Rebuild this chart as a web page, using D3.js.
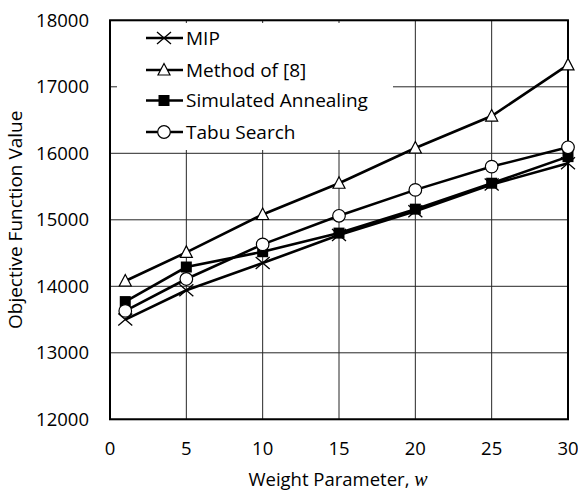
<!DOCTYPE html>
<html>
<head>
<meta charset="utf-8">
<script src="https://cdn.jsdelivr.net/npm/d3@7"></script>
<style>
  body { margin: 0; background: #fff; }
  svg { display: block; font-family: "Open Sans", sans-serif; }
</style>
</head>
<body>
<svg id="chart" width="578" height="491"></svg>
<script>
// Data
const weights = [1, 5, 10, 15, 20, 25, 30];
const mip = [13500, 13940, 14350, 14770, 15130, 15530, 15850];
const method8 = [14080, 14510, 15080, 15550, 16080, 16560, 17330];
const annealing = [13770, 14290, 14520, 14800, 15160, 15550, 15950];
const tabu = [13630, 14110, 14630, 15060, 15450, 15800, 16090];

const xTicks = [0, 5, 10, 15, 20, 25, 30];
const yTicks = [12000, 13000, 14000, 15000, 16000, 17000, 18000];

const seriesNames = ["MIP", "Method of [8]", "Simulated Annealing", "Tabu Search"];
const seriesValues = [mip, method8, annealing, tabu];
const seriesMarkers = ["x", "triangle", "square", "circle"];

const svg = d3.select("#chart");

const x = d3.scaleLinear().domain([0, 30]).range([110, 568]);
const y = d3.scaleLinear().domain([12000, 18000]).range([419.3, 20.3]);

// Marker shapes
function drawMarker(g, type, cx, cy) {
    if (type === "x") {
        g.append("path")
            .attr("d", `M${cx - 7},${cy - 6}L${cx + 7},${cy + 6}M${cx - 7},${cy + 6}L${cx + 7},${cy - 6}`)
            .attr("stroke", "#000").attr("stroke-width", 1.3).attr("fill", "none");
    } else if (type === "triangle") {
        g.append("path")
            .attr("d", `M${cx},${cy - 6.5}L${cx + 6},${cy + 5}L${cx - 6},${cy + 5}Z`)
            .attr("stroke", "#000").attr("stroke-width", 1.2).attr("fill", "#fff");
    } else if (type === "square") {
        g.append("rect")
            .attr("x", cx - 5.5).attr("y", cy - 5.5).attr("width", 11).attr("height", 11)
            .attr("fill", "#000");
    } else {
        g.append("circle")
            .attr("cx", cx).attr("cy", cy).attr("r", 6.3)
            .attr("stroke", "#000").attr("stroke-width", 1.2).attr("fill", "#fff");
    }
}

// Gridlines
const grid = svg.append("g");
grid.selectAll(".hg").data(yTicks).join("line")
    .attr("x1", x(0)).attr("x2", x(30))
    .attr("y1", d => y(d)).attr("y2", d => y(d))
    .attr("stroke", "#262626").attr("stroke-width", 1);
grid.selectAll(".vg").data(xTicks).join("line")
    .attr("x1", d => x(d)).attr("x2", d => x(d))
    .attr("y1", y(12000)).attr("y2", y(18000))
    .attr("stroke", "#262626").attr("stroke-width", 1);

// Legend background covers the grid in the upper-left corner
svg.append("rect")
    .attr("x", 117).attr("y", 23).attr("width", 276).attr("height", 127)
    .attr("fill", "#fff");

// Frame
svg.append("rect")
    .attr("x", x(0)).attr("y", y(18000))
    .attr("width", x(30) - x(0)).attr("height", y(12000) - y(18000))
    .attr("fill", "none").attr("stroke", "#000").attr("stroke-width", 2);

// Axis labels
svg.append("g").selectAll("text").data(yTicks).join("text")
    .attr("x", 89).attr("y", d => y(d))
    .attr("dy", "0.35em")
    .attr("text-anchor", "end")
    .attr("font-size", 18.5)
    .attr("fill", "#000")
    .text(d => d);

svg.append("g").selectAll("text").data(xTicks).join("text")
    .attr("x", d => x(d)).attr("y", 455)
    .attr("text-anchor", "middle")
    .attr("font-size", 18.5)
    .attr("fill", "#000")
    .text(d => d);

const xTitle = svg.append("text")
    .attr("x", 338).attr("y", 486)
    .attr("text-anchor", "middle")
    .attr("font-size", 18.5)
    .attr("fill", "#000");
xTitle.append("tspan").text("Weight Parameter, ");
xTitle.append("tspan")
    .attr("font-family", "'Liberation Serif', 'DejaVu Serif', serif")
    .attr("font-style", "italic")
    .attr("font-size", 20)
    .text("w");

svg.append("text")
    .attr("transform", `translate(22,${(y(12000) + y(18000)) / 2}) rotate(-90)`)
    .attr("text-anchor", "middle")
    .attr("font-size", 19)
    .attr("fill", "#000")
    .text("Objective Function Value");

// Series
const line = d3.line()
    .x((d, i) => x(weights[i]))
    .y(d => y(d));

seriesValues.forEach((vals, k) => {
    const g = svg.append("g");
    g.append("path")
        .attr("d", line(vals))
        .attr("fill", "none")
        .attr("stroke", "#000")
        .attr("stroke-width", 2.6);
    vals.forEach((v, i) => drawMarker(g, seriesMarkers[k], x(weights[i]), y(v)));
});

// Legend
const legendY = [38, 70, 100.5, 132];
seriesNames.forEach((name, k) => {
    const g = svg.append("g");
    g.append("line")
        .attr("x1", 146).attr("x2", 183)
        .attr("y1", legendY[k]).attr("y2", legendY[k])
        .attr("stroke", "#000").attr("stroke-width", 2.6);
    drawMarker(g, seriesMarkers[k], 164, legendY[k]);
    g.append("text")
        .attr("x", 186).attr("y", legendY[k])
        .attr("dy", "0.36em")
        .attr("font-size", 19)
        .attr("fill", "#000")
        .text(name);
});
</script>
</body>
</html>
